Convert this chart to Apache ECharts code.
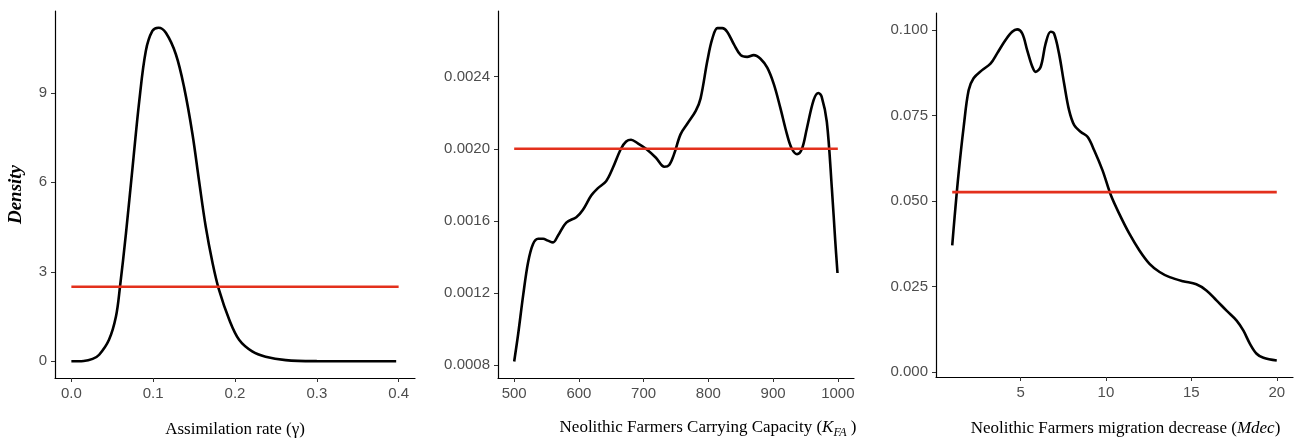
<!DOCTYPE html>
<html>
<head>
<meta charset="utf-8">
<script src="https://cdn.jsdelivr.net/npm/echarts@6/dist/echarts.min.js"></script>
<style>
  html, body { margin: 0; padding: 0; background: #fff; }
  #main { width: 1303px; height: 441px; }
</style>
</head>
<body>
<div id="main"></div>
<script>
// panel 1: assimilation rate (gamma)
var gammaX = [0, 0.015, 0.026, 0.034, 0.046, 0.0545, 0.0594, 0.0667, 0.0748, 0.083, 0.091, 0.099, 0.1065,
  0.1155, 0.1277, 0.1378, 0.148, 0.156, 0.1643, 0.1727, 0.1805, 0.193, 0.205, 0.221, 0.2374, 0.262, 0.3, 0.35, 0.397];
var gammaY = [0, 0.01, 0.08, 0.22, 0.72, 1.5, 2.49, 4.28, 6.5, 8.73, 10.4, 11.07, 11.18,
  11.01, 10.29, 9.18, 7.62, 6.06, 4.5, 3.28, 2.39, 1.39, 0.72, 0.33, 0.15, 0.04, 0.005, 0, 0];
var gammaPrior = [[0, 2.5], [0.4, 2.5]];

// panel 2: carrying capacity K_FA
var kfaX = [500, 506, 514, 521.5, 529, 537, 544.6, 552, 560, 568, 580.5, 596, 606, 619, 629, 642, 652, 665, 673, 680.5,
  691, 703.6, 719, 732, 739.5, 747, 757, 767.7, 780.5, 788, 798.5, 806, 814, 821.5, 829, 839.5, 850, 860, 870, 880.5,
  891, 901, 911, 921.5, 929, 937, 944.6, 952, 962.6, 970, 975, 983, 990.8, 996, 999.5];
var kfaY = [0.000819, 0.000967, 0.00119, 0.00137, 0.00147, 0.0015, 0.0015, 0.00149, 0.00148, 0.00152, 0.00159, 0.00162,
  0.00166, 0.00174, 0.00178, 0.00182, 0.00189, 0.0020, 0.00204, 0.00205, 0.00203, 0.0020, 0.00195, 0.0019, 0.00191,
  0.00197, 0.00208, 0.00214, 0.00221, 0.00228, 0.00249, 0.00261, 0.00267, 0.00267, 0.00265, 0.00258, 0.00252, 0.00251,
  0.00252, 0.0025, 0.00245, 0.00236, 0.00223, 0.00208, 0.0020, 0.00197, 0.0020, 0.00211, 0.00227, 0.00231, 0.00229,
  0.00215, 0.00178, 0.00149, 0.00131];
var kfaPrior = [[500, 0.002], [1000, 0.002]];

// panel 3: migration decrease Mdec
var mdecX = [1.0, 1.14, 1.37, 1.67, 1.96, 2.25, 2.75, 3.24, 3.63, 4.12, 4.51, 4.8, 5.1, 5.39, 5.69, 5.88, 6.18, 6.47,
  6.76, 6.96, 7.25, 7.55, 7.84, 8.14, 8.53, 8.92, 9.31, 9.8, 10.29, 10.78, 11.37, 11.96, 12.55, 13.14, 13.73, 14.51,
  15.29, 15.88, 16.47, 17.06, 17.65, 18.04, 18.43, 18.82, 19.22, 20];
var mdecY = [0.0371, 0.0454, 0.058, 0.0717, 0.0824, 0.0859, 0.0883, 0.0902, 0.0932, 0.0971, 0.0995, 0.1002, 0.099,
  0.0941, 0.0893, 0.0878, 0.0893, 0.0961, 0.0995, 0.099, 0.0932, 0.0844, 0.0766, 0.0722, 0.0702, 0.0688, 0.0649,
  0.059, 0.0517, 0.0463, 0.0405, 0.0356, 0.0317, 0.0293, 0.0278, 0.0266, 0.0257, 0.0239, 0.021, 0.018, 0.0151,
  0.0122, 0.0083, 0.0054, 0.0042, 0.0034];
var mdecPrior = [[1, 1 / 19], [20, 1 / 19]];

// tick values
var xTicks1 = [0, 0.1, 0.2, 0.3, 0.4];
var yTicks1 = [0, 3, 6, 9];
var xTicks2 = [500, 600, 700, 800, 900, 1000];
var yTicks2 = [0.0008, 0.0012, 0.0016, 0.0020, 0.0024];
var xTicks3 = [5, 10, 15, 20];
var yTicks3 = [0, 0.025, 0.05, 0.075, 0.1];

function zip(xs, ys) {
  return xs.map(function (x, i) { return [x, ys[i]]; });
}

var tickFont = { color: '#4d4d4d', fontSize: 15, fontFamily: 'Liberation Sans, Arial, sans-serif' };
var serif = 'Liberation Serif, Times New Roman, serif';

function mkX(idx, min, max, ticks, digits, name, padLeft, gap) {
  return {
    type: 'value', gridIndex: idx, min: min, max: max,
    axisLine: { onZero: false, lineStyle: { color: '#000', width: 1.2 } },
    axisTick: { show: true, length: 4, customValues: ticks, lineStyle: { color: '#333', width: 1 } },
    axisLabel: Object.assign({ customValues: ticks, margin: 8, formatter: function (v) { return v.toFixed(digits); } }, tickFont),
    splitLine: { show: false },
    name: name, nameLocation: 'middle', nameGap: gap,
    nameTextStyle: {
      color: '#000', fontSize: 17, fontFamily: serif, padding: [0, 0, 0, padLeft],
      rich: {
        n: { color: '#000', fontSize: 17, fontFamily: serif },
        i: { color: '#000', fontSize: 17, fontFamily: serif, fontStyle: 'italic' },
        sub: { color: '#000', fontSize: 12, fontFamily: serif, fontStyle: 'italic', padding: [10, 0, 0, 0] }
      }
    }
  };
}

function mkY(idx, min, max, ticks, digits, name) {
  return {
    type: 'value', gridIndex: idx, min: min, max: max,
    axisLine: { show: true, onZero: false, lineStyle: { color: '#000', width: 1.2 } },
    axisTick: { show: true, length: 4, customValues: ticks, lineStyle: { color: '#333', width: 1 } },
    axisLabel: Object.assign({ customValues: ticks, margin: 8, formatter: function (v) { return v.toFixed(digits); } }, tickFont),
    splitLine: { show: false },
    name: name || '', nameLocation: 'middle', nameGap: 29, nameRotate: 90,
    nameTextStyle: { color: '#000', fontSize: 19, fontFamily: serif, fontWeight: 'bold', fontStyle: 'italic' }
  };
}

function curve(idx, data) {
  return {
    type: 'line', xAxisIndex: idx, yAxisIndex: idx, data: data, smooth: 0.35, symbol: 'none',
    lineStyle: { color: '#000', width: 2.6 }, z: 2, animation: false
  };
}
function prior(idx, data) {
  return {
    type: 'line', xAxisIndex: idx, yAxisIndex: idx, data: data, symbol: 'none',
    lineStyle: { color: '#e3301c', width: 2.6 }, z: 3, animation: false
  };
}

var chart = echarts.init(document.getElementById('main'));
var option = {
  backgroundColor: '#fff',
  animation: false,
  grid: [
    { left: 55, width: 360, top: 11, height: 367, outerBoundsMode: 'none', containLabel: false },
    { left: 498, width: 356, top: 11, height: 367, outerBoundsMode: 'none', containLabel: false },
    { left: 936, width: 357, top: 13, height: 364, outerBoundsMode: 'none', containLabel: false }
  ],
  xAxis: [
    mkX(0, -0.02, 0.42, xTicks1, 1, 'Assimilation rate (γ)', 0, 43),
    mkX(1, 475, 1025, xTicks2, 0, '{n|Neolithic Farmers Carrying Capacity (}{i|K}{sub|FA}{n| )}', 64, 39),
    mkX(2, 0.05, 20.95, xTicks3, 0, '{n|Neolithic Farmers migration decrease (}{i|Mdec}{n|)}', 22, 43)
  ],
  yAxis: [
    mkY(0, -0.56, 11.74, yTicks1, 0, 'Density'),
    mkY(1, 0.000727, 0.002765, yTicks2, 4),
    mkY(2, -0.0014, 0.105, yTicks3, 3)
  ],
  series: [
    curve(0, zip(gammaX, gammaY)), prior(0, gammaPrior),
    curve(1, zip(kfaX, kfaY)), prior(1, kfaPrior),
    curve(2, zip(mdecX, mdecY)), prior(2, mdecPrior)
  ]
};
chart.setOption(option);
</script>
</body>
</html>
